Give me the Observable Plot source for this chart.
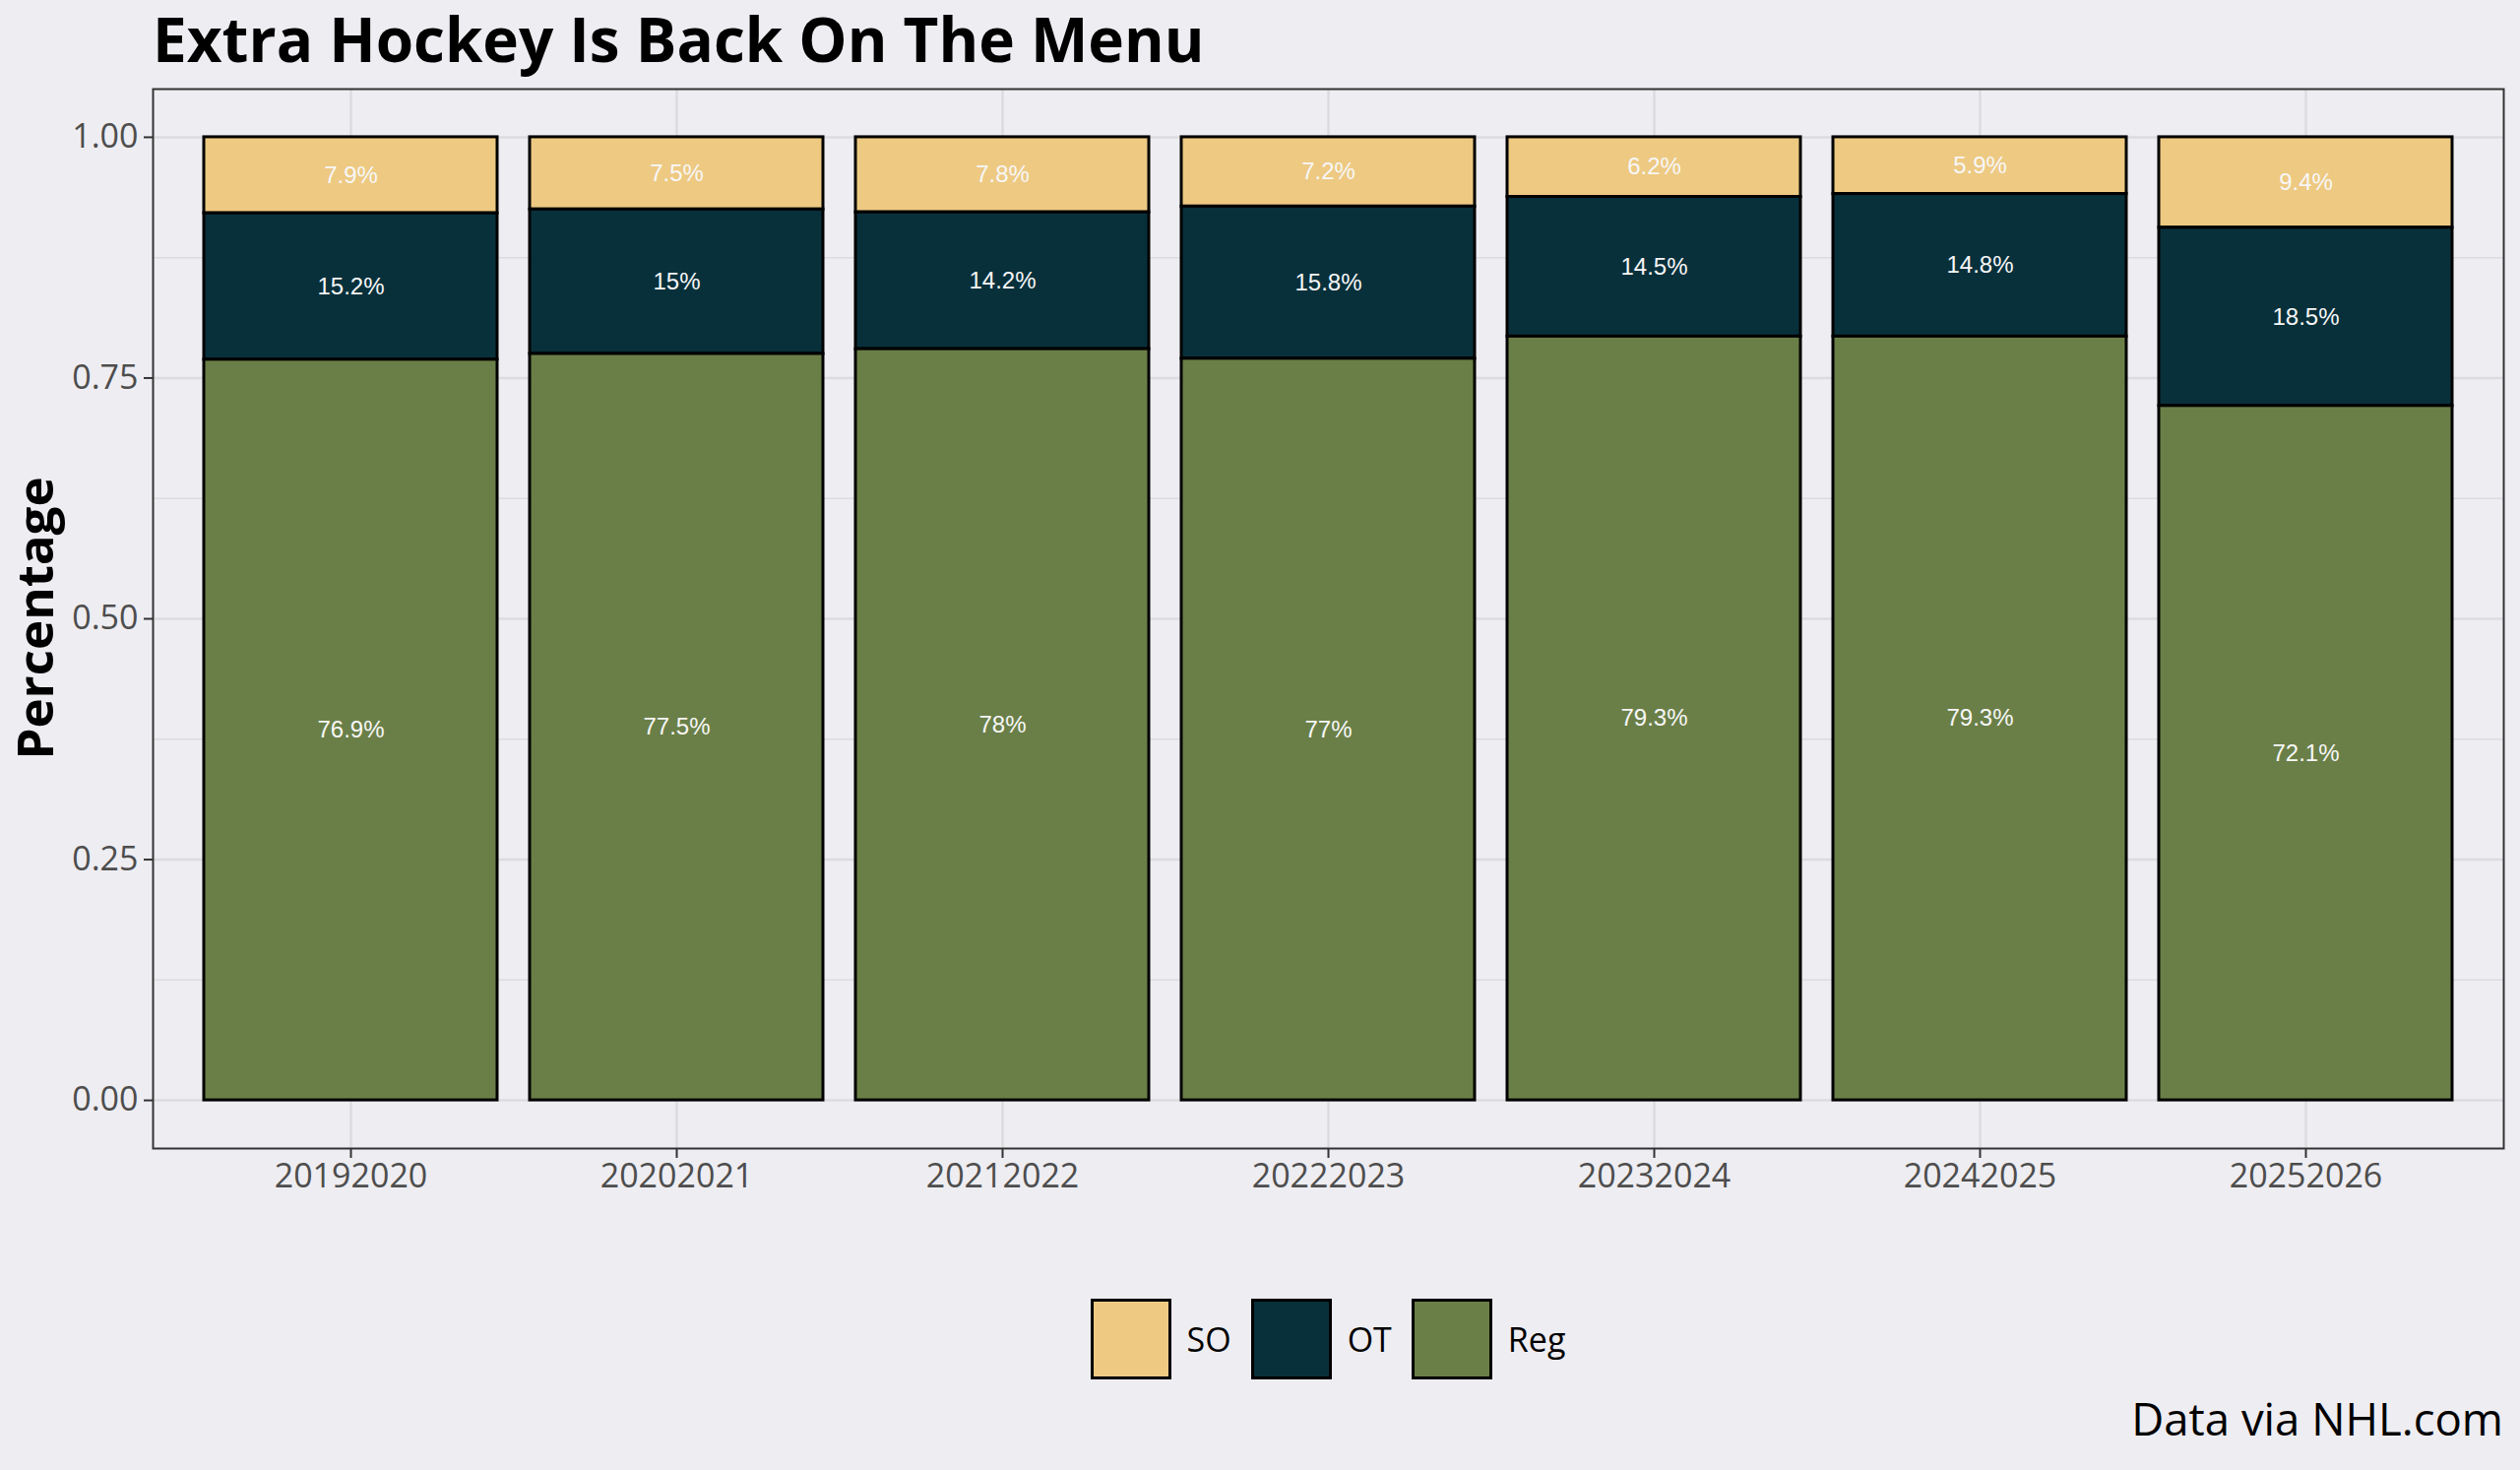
<!DOCTYPE html>
<html>
<head>
<meta charset="utf-8">
<script src="https://cdn.jsdelivr.net/npm/d3@7"></script>
<script src="https://cdn.jsdelivr.net/npm/@observablehq/plot@0.6"></script>
<style>
  html, body { margin: 0; padding: 0; }
  body { background: #EEEDF2; width: 2560px; height: 1493px; position: relative; overflow: hidden; font-family: "Open Sans", sans-serif; }
  #title { position: absolute; left: 155px; top: 8px; font-weight: 700; font-size: 62px; line-height: 1; color: #000; white-space: nowrap; }
  #chart { position: absolute; left: 0; top: 90px; }
  #ylab { position: absolute; left: 34px; top: 628px; transform: translate(-50%, -50%) rotate(-90deg); font-weight: 700; font-size: 51px; line-height: 1; color: #000; white-space: nowrap; }
  #legend { position: absolute; left: 155px; width: 2388px; top: 1319px; display: flex; justify-content: center; align-items: center; }
  .item { display: flex; align-items: center; margin: 0 10px; }
  .sw { width: 76px; height: 76px; border: 3px solid #000; box-sizing: content-box; }
  .lab { margin-left: 16px; font-size: 34px; color: #000; }
  #caption { position: absolute; right: 17px; top: 1418px; font-size: 45.5px; line-height: 1; color: #000; white-space: nowrap; }
</style>
</head>
<body>
<div id="title">Extra Hockey Is Back On The Menu</div>
<div id="ylab">Percentage</div>
<div id="chart"></div>
<div id="legend"></div>
<div id="caption">Data via NHL.com</div>
<script>
// ---- data ----
const seasons = ["20192020", "20202021", "20212022", "20222023", "20232024", "20242025", "20252026"];
const outcomes = ["SO", "OT", "Reg"];              // legend order
const stackOrder = ["Reg", "OT", "SO"];            // bottom to top
const regPct = [76.9, 77.5, 78, 77, 79.3, 79.3, 72.1];
const otPct  = [15.2, 15, 14.2, 15.8, 14.5, 14.8, 18.5];
const soPct  = [7.9, 7.5, 7.8, 7.2, 6.2, 5.9, 9.4];
const outcomeColors = ["#EDC982", "#08303B", "#6A7F47"];
const yTicks = [0, 0.25, 0.5, 0.75, 1];
const yMinorTicks = [0.125, 0.375, 0.625, 0.875];

// ---- table ----
const seriesByOutcome = { SO: soPct, OT: otPct, Reg: regPct };
const rows = [];
seasons.forEach((s, i) => {
  outcomes.forEach(o => {
    rows.push({ season: s, outcome: o, pct: seriesByOutcome[o][i], value: seriesByOutcome[o][i] / 100 });
  });
});

const gridColor = "#DCDBE0";

const chart = Plot.plot({
  width: 2560,
  height: 1150,
  marginTop: 0,
  marginBottom: 74,
  marginLeft: 155,
  marginRight: 17,
  style: { background: "transparent", fontFamily: "Open Sans", fontSize: "34px", color: "#4D4D4D", overflow: "visible" },
  x: { type: "band", domain: seasons, paddingInner: 0.1, paddingOuter: 0.15, label: null },
  y: { domain: [-0.05, 1.05], label: null },
  color: { domain: outcomes, range: outcomeColors },
  marks: [
    Plot.gridY(yMinorTicks, { stroke: gridColor, strokeOpacity: 1, strokeWidth: 1.5 }),
    Plot.gridY(yTicks, { stroke: gridColor, strokeOpacity: 1, strokeWidth: 2.5 }),
    Plot.gridX(seasons, { stroke: gridColor, strokeOpacity: 1, strokeWidth: 2.5 }),
    Plot.barY(rows, {
      x: "season", y: "value", fill: "outcome", order: stackOrder,
      stroke: "#000", strokeWidth: 3, inset: 0
    }),
    Plot.text(rows, Plot.stackY({
      x: "season", y: "value", z: "outcome", order: stackOrder,
      text: d => `${d.pct}%`,
      fill: "#F7F7F7", fontFamily: "Liberation Sans, Arial, sans-serif", fontSize: 24
    })),
    Plot.frame({ stroke: "#333333", strokeWidth: 2 }),
    Plot.axisY(yTicks, { tickFormat: d3.format(".2f"), tickSize: 9, tickPadding: 6, fontSize: 34, stroke: "#333333", strokeWidth: 2, label: null }),
    Plot.axisX(seasons, { tickSize: 10, tickPadding: 5, fontSize: 34, stroke: "#333333", strokeWidth: 2, label: null })
  ]
});
document.getElementById("chart").appendChild(chart);

// ---- legend ----
const legend = document.getElementById("legend");
outcomes.forEach((o, i) => {
  const item = document.createElement("div");
  item.className = "item";
  const sw = document.createElement("div");
  sw.className = "sw";
  sw.style.background = outcomeColors[i];
  const lab = document.createElement("span");
  lab.className = "lab";
  lab.textContent = o;
  item.appendChild(sw);
  item.appendChild(lab);
  legend.appendChild(item);
});
</script>
</body>
</html>
